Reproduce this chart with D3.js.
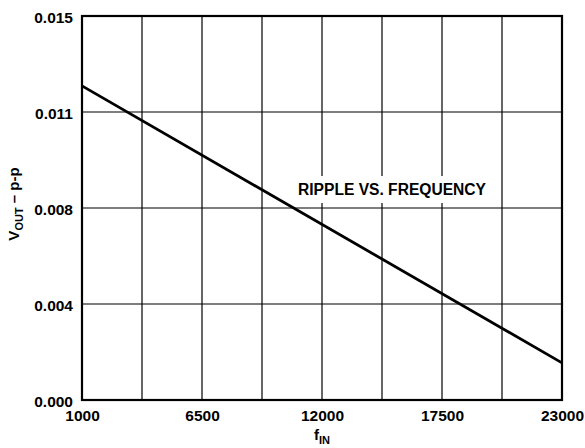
<!DOCTYPE html>
<html>
<head>
<meta charset="utf-8">
<script src="https://cdn.jsdelivr.net/npm/d3@7"></script>
<style>
body { margin: 0; background: #fff; }
text { font-family: "Liberation Sans", Arial, sans-serif; font-weight: bold; fill: #000; }
</style>
</head>
<body>
<script>
// ripple vs frequency
var freq = [1000, 23000];
var ripple = [0.01227, 0.00145];

var xTicks = [1000, 6500, 12000, 17500, 23000];
var xGrid = [1000, 3750, 6500, 9250, 12000, 14750, 17500, 20250, 23000];
var yGrid = [0, 0.00375, 0.0075, 0.01125, 0.015];
var yLabels = ["0.000", "0.004", "0.008", "0.011", "0.015"];

var W = 585, H = 448;
var pLeft = 82, pRight = 562, pTop = 16, pBottom = 400;

var svg = d3.select("body").append("svg")
    .attr("width", W).attr("height", H);

var x = d3.scaleLinear().domain([1000, 23000]).range([pLeft, pRight]);
var y = d3.scaleLinear().domain([0, 0.015]).range([pBottom, pTop]);

// grid
svg.append("g").selectAll("line").data(xGrid).enter().append("line")
    .attr("x1", function(d){ return x(d); }).attr("x2", function(d){ return x(d); })
    .attr("y1", pTop).attr("y2", pBottom)
    .attr("stroke", "#000").attr("stroke-width", 1.2);
svg.append("g").selectAll("line").data(yGrid).enter().append("line")
    .attr("x1", pLeft).attr("x2", pRight)
    .attr("y1", function(d){ return y(d); }).attr("y2", function(d){ return y(d); })
    .attr("stroke", "#000").attr("stroke-width", 1.2);

// axes (labels only, ticks drawn as grid)
var xAxis = d3.axisBottom(x).tickValues(xTicks).tickSize(0).tickPadding(0)
    .tickFormat(d3.format("d"));
var gx = svg.append("g").attr("transform", "translate(0," + pBottom + ")").call(xAxis);
gx.select(".domain").remove();
gx.selectAll("text").attr("y", 21).attr("dy", 0).style("font-size", "15.5px");
gx.attr("font-family", null).attr("font-size", null);

var yAxis = d3.axisLeft(y).tickValues(yGrid).tickSize(0).tickPadding(9)
    .tickFormat(function(d, i){ return yLabels[i]; });
var gy = svg.append("g").attr("transform", "translate(" + pLeft + ",0)").call(yAxis);
gy.select(".domain").remove();
gy.selectAll("text").attr("dy", "0.45em").style("font-size", "15.5px");
gy.attr("font-family", null).attr("font-size", null);

// plot frame
svg.append("rect")
    .attr("x", pLeft).attr("y", pTop).attr("width", pRight - pLeft).attr("height", pBottom - pTop)
    .attr("fill", "none").attr("stroke", "#000").attr("stroke-width", 2.2);

// data line
var line = d3.line().x(function(d){ return x(d[0]); }).y(function(d){ return y(d[1]); });
svg.append("path")
    .datum(d3.zip(freq, ripple))
    .attr("d", line)
    .attr("fill", "none").attr("stroke", "#000").attr("stroke-width", 2.8);

// label with white box
var lbl = svg.append("g");
lbl.append("rect")
    .attr("x", 296).attr("y", 176).attr("width", 194).attr("height", 27)
    .attr("fill", "#fff");
lbl.append("text")
    .attr("x", 392).attr("y", 195).attr("text-anchor", "middle")
    .style("font-size", "15.6px")
    .text("RIPPLE VS. FREQUENCY");

// axis titles
var xt = svg.append("text")
    .attr("x", 322).attr("y", 440).attr("text-anchor", "middle")
    .style("font-size", "15px");
xt.append("tspan").text("f");
xt.append("tspan").attr("dy", 4).style("font-size", "11px").text("IN");

var yt = svg.append("text")
    .attr("transform", "translate(19,204) rotate(-90)")
    .attr("text-anchor", "middle")
    .style("font-size", "15px");
yt.append("tspan").text("V");
yt.append("tspan").attr("dy", 4).style("font-size", "11px").text("OUT");
yt.append("tspan").attr("dy", -4).text(" \u2013 p-p");
</script>
</body>
</html>
